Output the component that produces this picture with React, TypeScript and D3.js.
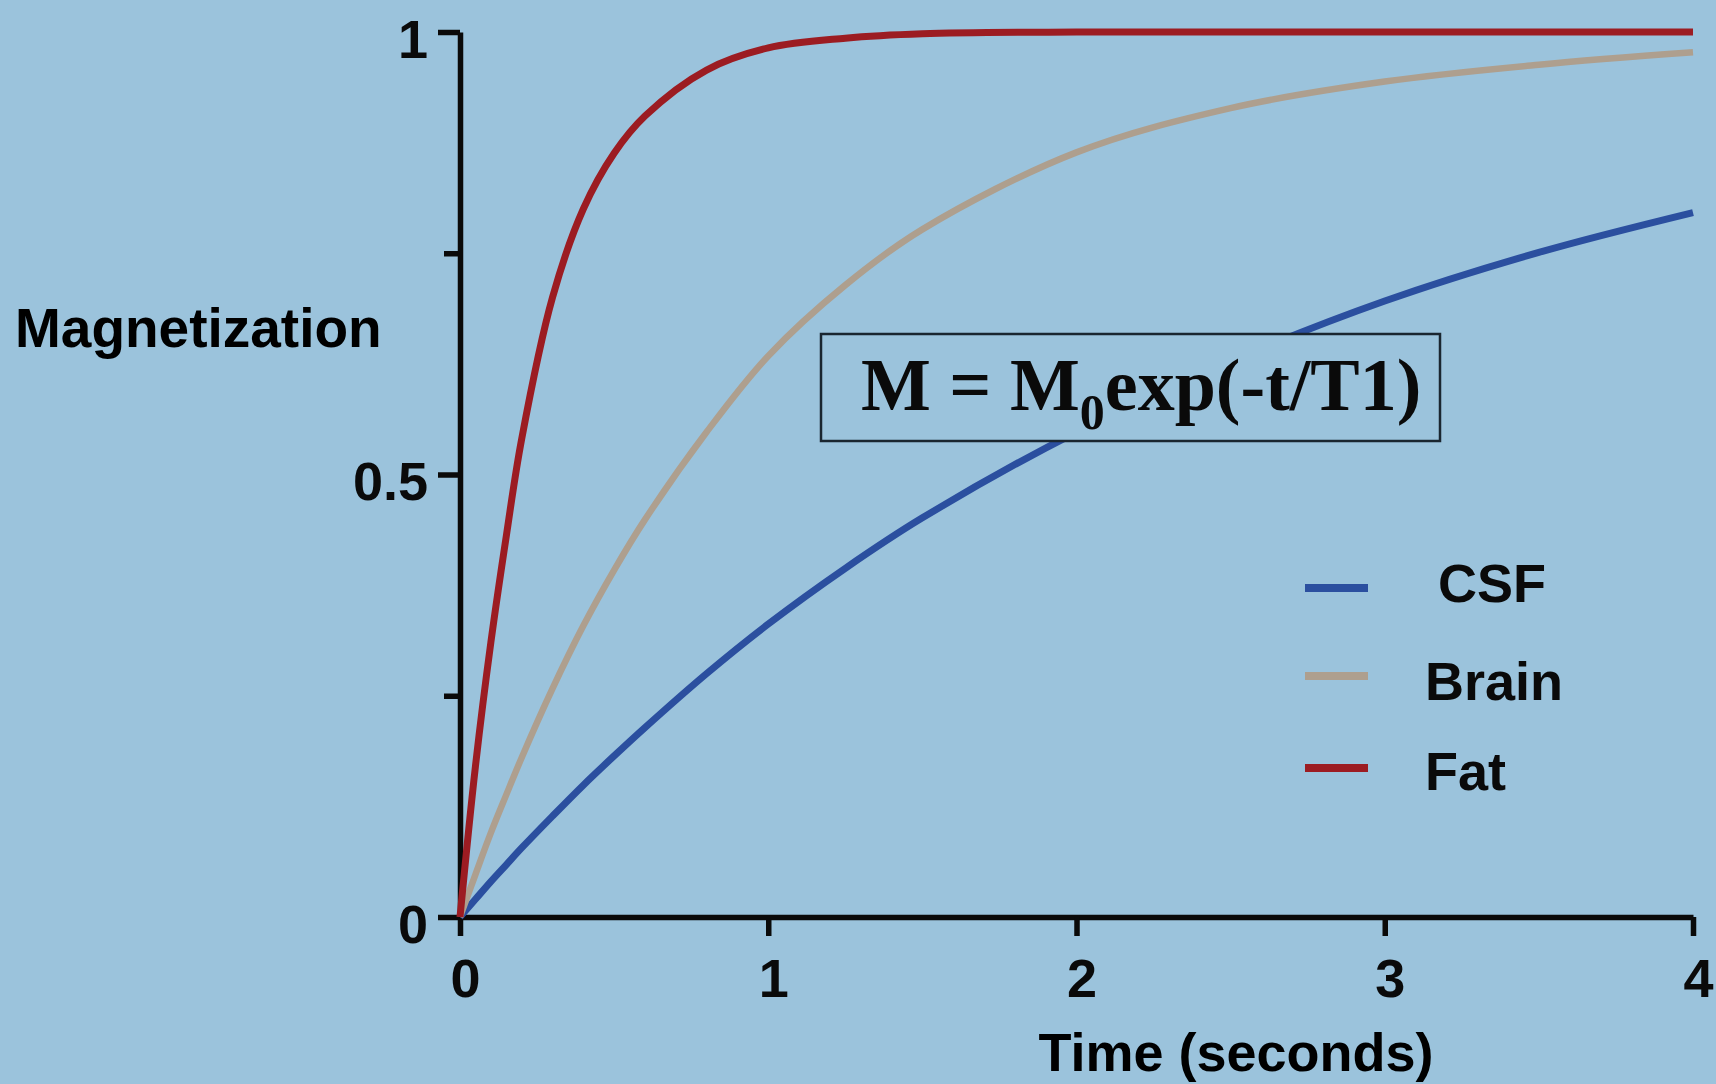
import * as d3 from 'd3';
import { useEffect, useRef } from 'react';

// time points (seconds) and magnetization
const times = [0, 0.05, 0.1, 0.15, 0.2, 0.3, 0.4, 0.5, 0.6, 0.8, 1, 1.25, 1.5, 2, 2.5, 3, 3.5, 4];
const csfValues = [0, 0.02, 0.04, 0.059, 0.078, 0.114, 0.149, 0.182, 0.214, 0.275, 0.331, 0.394, 0.451, 0.548, 0.628, 0.696, 0.751, 0.796];
const brainValues = [0, 0.048, 0.095, 0.138, 0.18, 0.258, 0.329, 0.392, 0.449, 0.548, 0.634, 0.714, 0.777, 0.864, 0.914, 0.944, 0.963, 0.977];
const fatValues = [0, 0.17, 0.31, 0.43, 0.54, 0.7, 0.8, 0.863, 0.905, 0.957, 0.982, 0.993, 0.998, 1, 1, 1, 1, 1];

const seriesNames = ['CSF', 'Brain', 'Fat'];
const xTicks = [0, 1, 2, 3, 4];
const yTicks = [0, 0.5, 1];
const yMinorTicks = [0.25, 0.75];

const colors = { CSF: '#2b4f9f', Brain: '#ae9f8e', Fat: '#9c1c22' };
const BG = '#9bc3dc';
const SANS = '"Liberation Sans", Arial, Helvetica, sans-serif';
const SERIF = '"Liberation Serif", "Times New Roman", serif';

export default function App() {
  const ref = useRef(null);
  const width = 1716;
  const height = 1084;

  useEffect(() => {
    const svg = d3.select(ref.current);
    svg.selectAll('*').remove();

    const x = d3.scaleLinear().domain([0, 4]).range([460, 1693]);
    const y = d3.scaleLinear().domain([0, 1]).range([917, 32]);

    svg.append('rect').attr('width', width).attr('height', height).attr('fill', BG);

    // y label
    svg.append('text')
      .attr('x', 15).attr('y', 347)
      .attr('font-family', SANS).attr('font-weight', 'bold').attr('font-size', 55)
      .text('Magnetization');

    // x label
    svg.append('text')
      .attr('x', 1236).attr('y', 1071)
      .attr('text-anchor', 'middle')
      .attr('font-family', SANS).attr('font-weight', 'bold').attr('font-size', 54)
      .text('Time (seconds)');

    const styleAxis = (g) => {
      g.selectAll('path.domain').attr('stroke', '#0a0a0a').attr('stroke-width', 5.5);
      g.selectAll('.tick line').attr('stroke', '#0a0a0a').attr('stroke-width', 5.5);
      g.selectAll('.tick text')
        .attr('fill', '#0a0a0a')
        .attr('font-family', SANS).attr('font-weight', 'bold').attr('font-size', 54);
    };

    // minor y ticks
    svg.append('g')
      .attr('transform', `translate(${x(0)},0)`)
      .call(d3.axisLeft(y).tickValues(yMinorTicks).tickSize(16).tickFormat(() => ''))
      .call(g => g.select('.domain').remove())
      .call(styleAxis);

    svg.append('g')
      .attr('transform', `translate(${x(0)},0)`)
      .call(d3.axisLeft(y).tickValues(yTicks).tickSize(22).tickSizeOuter(0).tickPadding(10)
        .tickFormat(d => d3.format('')(d)))
      .call(styleAxis)
      .call(g => g.selectAll('.tick text').attr('dy', '0.47em'));

    svg.append('g')
      .attr('transform', `translate(0,${y(0)})`)
      .call(d3.axisBottom(x).tickValues(xTicks).tickSize(19).tickSizeOuter(0).tickPadding(23)
        .tickFormat(d3.format('d')))
      .call(styleAxis)
      .call(g => g.selectAll('.tick text').attr('dx', 5));

    const line = d3.line()
      .x(d => x(d[0]))
      .y(d => y(d[1]))
      .curve(d3.curveCatmullRom.alpha(0.5));

    const data = {
      CSF: times.map((t, i) => [t, csfValues[i]]),
      Brain: times.map((t, i) => [t, brainValues[i]]),
      Fat: times.map((t, i) => [t, fatValues[i]]),
    };
    const widths = { CSF: 7, Brain: 6.5, Fat: 7 };

    seriesNames.forEach(name => {
      svg.append('path')
        .datum(data[name])
        .attr('d', line)
        .attr('fill', 'none')
        .attr('stroke', colors[name])
        .attr('stroke-width', widths[name]);
    });

    // formula box
    svg.append('rect')
      .attr('x', 821).attr('y', 334).attr('width', 619).attr('height', 107)
      .attr('fill', BG).attr('stroke', '#1a2630').attr('stroke-width', 2.5);

    const f = svg.append('text')
      .attr('x', 861).attr('y', 410)
      .attr('font-family', SERIF).attr('font-weight', 'bold').attr('font-size', 74)
      .attr('fill', '#0a0a0a');
    f.append('tspan').text('M = M');
    f.append('tspan').attr('font-size', 50).attr('dy', 19).text('0');
    f.append('tspan').attr('dy', -19).text('exp(-t/T1)');

    // legend
    const legendY = { CSF: 588, Brain: 676, Fat: 768 };
    const legendTextY = { CSF: 602, Brain: 700, Fat: 790 };
    const legendTextX = { CSF: 1438, Brain: 1425, Fat: 1425 };
    seriesNames.forEach(name => {
      svg.append('line')
        .attr('x1', 1305).attr('x2', 1368)
        .attr('y1', legendY[name]).attr('y2', legendY[name])
        .attr('stroke', colors[name]).attr('stroke-width', 8);
      svg.append('text')
        .attr('x', legendTextX[name]).attr('y', legendTextY[name])
        .attr('font-family', SANS).attr('font-weight', 'bold').attr('font-size', 54)
        .attr('fill', '#0a0a0a')
        .text(name);
    });

    return () => { svg.selectAll('*').remove(); };
  }, []);

  return (
    <svg
      ref={ref}
      width={width}
      height={height}
      style={{ position: 'absolute', left: 0, top: 0, display: 'block' }}
    />
  );
}
